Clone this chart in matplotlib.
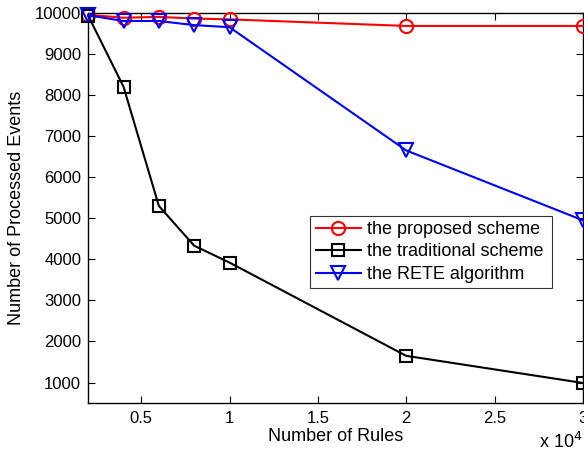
import numpy as np
import matplotlib.pyplot as plt

plt.rcParams['font.family'] = ['Liberation Sans', 'DejaVu Sans']

# Numero di regole (x 10^4)
regole = np.array([0.2, 0.4, 0.6, 0.8, 1.0, 2.0, 3.0])

# Eventi processati per ciascun metodo
proposto = np.array([9950, 9880, 9900, 9860, 9840, 9680, 9680])
tradizionale = np.array([9930, 8200, 5300, 4330, 3920, 1650, 990])
rete = np.array([9940, 9800, 9800, 9700, 9650, 6650, 4950])

xticks = [0.5, 1, 1.5, 2, 2.5, 3]
xticklabels = ['0.5', '1', '1.5', '2', '2.5', '3']
yticks = [1000, 2000, 3000, 4000, 5000, 6000, 7000, 8000, 9000, 10000]

fig = plt.figure(figsize=(5.84, 4.57), dpi=100)
ax = fig.add_axes([0.151, 0.118, 0.847, 0.854])

ax.plot(regole, proposto, 'o-', color='red', lw=1.5, ms=9.5, mfc='none', mew=1.5,
        label='the proposed scheme', clip_on=False, zorder=3)
ax.plot(regole, tradizionale, 's-', color='black', lw=1.5, ms=8.5, mfc='none', mew=1.5,
        label='the traditional scheme', clip_on=False, zorder=3)
ax.plot(regole, rete, 'v-', color='blue', lw=1.5, ms=9.5, mfc='none', mew=1.5,
        label='the RETE algorithm', clip_on=False, zorder=3)

ax.set_xlim(0.2, 3)
ax.set_ylim(500, 10000)
ax.set_xticks(xticks)
ax.set_xticklabels(xticklabels)
ax.set_yticks(yticks)
ax.tick_params(direction='in', top=True, right=True, labelsize=12, length=5, width=0.8)
ax.tick_params(axis='x', pad=6)
ax.tick_params(axis='y', pad=5)
for s in ax.spines.values():
    s.set_linewidth(1.0)

ax.set_xlabel('Number of Rules', fontsize=13, labelpad=1)
ax.set_ylabel('Number of Processed Events', fontsize=13, labelpad=7)
fig.text(0.998, 0.012, r'x 10$^4$', ha='right', va='bottom', fontsize=13)

leg = ax.legend(loc='lower left', bbox_to_anchor=(0.449, 0.294, 0.489, 0.194), mode='expand',
                fontsize=13, frameon=True, fancybox=False, edgecolor='black',
                handlelength=2.5, handletextpad=0.35, borderpad=0.3, labelspacing=0.3,
                borderaxespad=0)
leg.get_frame().set_linewidth(0.8)

plt.savefig('out.png', dpi=100)
